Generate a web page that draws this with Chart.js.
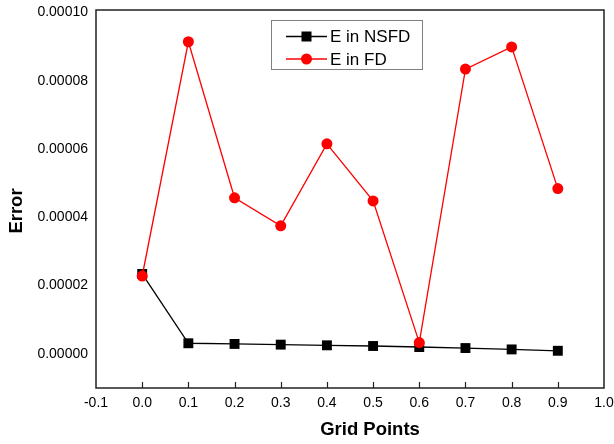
<!DOCTYPE html>
<html>
<head>
<meta charset="utf-8">
<script src="https://cdn.jsdelivr.net/npm/chart.js@4"></script>
<style>
  html, body { margin: 0; padding: 0; background: #fff; }
  #wrap { width: 614px; height: 444px; }
</style>
</head>
<body>
<div id="wrap"><canvas id="myChart" width="614" height="444"></canvas></div>
<script>
const gridPoints = [0.0, 0.1, 0.2, 0.3, 0.4, 0.5, 0.6, 0.7, 0.8, 0.9];
const errNSFD = [0.0000234, 0.0000031, 0.0000029, 0.0000027, 0.0000025, 0.0000023, 0.0000020, 0.0000017, 0.0000013, 0.0000009];
const errFD = [0.0000228, 0.0000914, 0.0000457, 0.0000375, 0.0000615, 0.0000448, 0.0000033, 0.0000834, 0.0000899, 0.0000484];
const xTicks = [-0.1, 0.0, 0.1, 0.2, 0.3, 0.4, 0.5, 0.6, 0.7, 0.8, 0.9, 1.0];
const yTicks = [0, 0.00002, 0.00004, 0.00006, 0.00008, 0.0001];

const FONT = "'Liberation Sans', Arial, sans-serif";

const toPoints = (ys) => gridPoints.map((x, i) => ({ x: x, y: ys[i] }));

// box around the plot, inward ticks on the bottom axis, axis titles and the boxed legend
const framePlugin = {
  id: 'frame',
  afterDatasetsDraw(chart) {
    const { ctx, chartArea: a } = chart;
    const xs = chart.scales.x;
    ctx.save();
    ctx.strokeStyle = '#222';
    ctx.lineWidth = 1.5;
    ctx.strokeRect(a.left, a.top, a.right - a.left, a.bottom - a.top);
    ctx.lineWidth = 1.2;
    ctx.beginPath();
    xTicks.forEach(v => {
      const px = Math.round(xs.getPixelForValue(v)) + 0.5;
      if (px <= a.left + 1 || px >= a.right - 1) return;
      ctx.moveTo(px, a.bottom);
      ctx.lineTo(px, a.bottom - 6);
    });
    ctx.stroke();
    ctx.restore();
  },
  afterDraw(chart) {
    const { ctx, chartArea: a } = chart;

    // axis titles
    ctx.save();
    ctx.fillStyle = '#000';
    ctx.font = 'bold 18.5px ' + FONT;
    ctx.textAlign = 'center';
    ctx.textBaseline = 'middle';
    ctx.fillText('Grid Points', a.left + 274, a.bottom + 42);
    ctx.translate(17, a.top + 201);
    ctx.rotate(-Math.PI / 2);
    ctx.fillText('Error', 0, 0);
    ctx.restore();

    // legend
    const bx = a.left + 175, by = a.top + 10, bw = 151, bh = 49;
    ctx.save();
    ctx.fillStyle = '#fff';
    ctx.fillRect(bx, by, bw, bh);
    ctx.strokeStyle = '#808080';
    ctx.lineWidth = 1;
    ctx.strokeRect(bx + 0.5, by + 0.5, bw, bh);
    chart.data.datasets.forEach((ds, i) => {
      const cy = by + 16.5 + i * 22.5;
      ctx.strokeStyle = ds.borderColor;
      ctx.lineWidth = ds.borderWidth;
      ctx.beginPath();
      ctx.moveTo(bx + 15, cy);
      ctx.lineTo(bx + 56, cy);
      ctx.stroke();
      ctx.fillStyle = ds.backgroundColor;
      if (ds.pointStyle === 'rect') {
        ctx.fillRect(bx + 35.5 - 5, cy - 5, 10, 10);
      } else {
        ctx.beginPath();
        ctx.arc(bx + 35.5, cy, 5.5, 0, Math.PI * 2);
        ctx.fill();
      }
      ctx.fillStyle = '#000';
      ctx.font = '17px ' + FONT;
      ctx.textBaseline = 'middle';
      ctx.fillText(ds.label, bx + 59, cy + 1);
    });
    ctx.restore();
  }
};

const ctx = document.getElementById('myChart');

new Chart(ctx, {
  type: 'line',
  data: {
    datasets: [{
      label: 'E in NSFD',
      data: toPoints(errNSFD),
      borderColor: '#000',
      backgroundColor: '#000',
      borderWidth: 1.3,
      pointStyle: 'rect',
      pointRadius: 7,
      pointBorderWidth: 0,
      order: 1
    }, {
      label: 'E in FD',
      data: toPoints(errFD),
      borderColor: '#ff0000',
      backgroundColor: '#ff0000',
      borderWidth: 1.3,
      pointStyle: 'circle',
      pointRadius: 5.5,
      pointBorderWidth: 0,
      order: 0
    }]
  },
  plugins: [framePlugin],
  options: {
    responsive: false,
    animation: false,
    layout: { padding: { top: 10, right: 10, left: 0, bottom: 0 } },
    plugins: {
      legend: { display: false },
      tooltip: { enabled: false }
    },
    scales: {
      x: {
        type: 'linear',
        min: -0.1,
        max: 1.0,
        afterFit: s => { s.height = 56; s.paddingLeft = 0; s.paddingRight = 0; },
        afterBuildTicks: s => { s.ticks = xTicks.map(v => ({ value: v })); },
        grid: { display: false, drawTicks: false },
        border: { display: false },
        ticks: {
          color: '#000',
          padding: 7,
          maxRotation: 0,
          font: { family: FONT, size: 14 },
          callback: v => v.toFixed(1)
        }
      },
      y: {
        min: -0.00001,
        max: 0.0001007,
        afterFit: s => { s.width = 96; s.paddingTop = 0; s.paddingBottom = 0; },
        afterBuildTicks: s => { s.ticks = yTicks.map(v => ({ value: v })); },
        grid: { display: false, drawTicks: false },
        border: { display: false },
        ticks: {
          color: '#000',
          padding: 8,
          font: { family: FONT, size: 14 },
          callback: v => v.toFixed(5)
        }
      }
    }
  }
});
</script>
</body>
</html>
